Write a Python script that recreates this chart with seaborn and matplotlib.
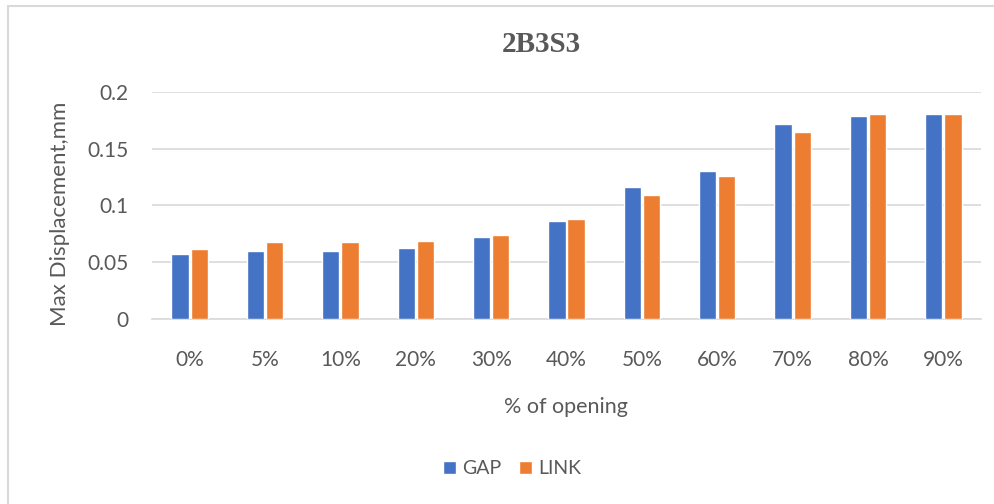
import matplotlib
matplotlib.use("Agg")
import matplotlib.pyplot as plt
import seaborn as sns
import pandas as pd
from matplotlib.patches import Rectangle

# datos
aberturas = ["0%", "5%", "10%", "20%", "30%", "40%", "50%", "60%", "70%", "80%", "90%"]
gap = [0.057, 0.060, 0.060, 0.063, 0.072, 0.086, 0.116, 0.130, 0.172, 0.179, 0.180]
link = [0.062, 0.068, 0.068, 0.069, 0.074, 0.088, 0.109, 0.126, 0.165, 0.180, 0.180]

df = pd.DataFrame({
    "abertura": aberturas * 2,
    "valor": gap + link,
    "serie": ["GAP"] * len(gap) + ["LINK"] * len(link),
})

sns.set_style("white")
plt.rcParams["font.family"] = ["Lato", "DejaVu Sans"]

gris = "#595959"
fig = plt.figure(figsize=(9.95, 5.04), dpi=100)
ax = fig.add_axes([152 / 995, 1 - 319.3 / 504, (981 - 152) / 995, (319.3 - 91.7) / 504])

sns.barplot(data=df, x="abertura", y="valor", hue="serie", order=aberturas,
            palette={"GAP": "#4472C4", "LINK": "#ED7D31"}, width=0.51, gap=0.1,
            saturation=1, errorbar=None, ax=ax, legend=True, zorder=3)

ax.set_ylim(0, 0.2)
ax.set_yticks([0, 0.05, 0.1, 0.15, 0.2])
ax.set_yticklabels(["0", "0.05", "0.1", "0.15", "0.2"])
ax.set_xlim(-0.5, len(aberturas) - 0.5)
ax.grid(axis="y", color="#D9D9D9", linewidth=1.2, zorder=0)
for s in ["top", "right", "left"]:
    ax.spines[s].set_visible(False)
ax.spines["bottom"].set_color("#D9D9D9")
ax.spines["bottom"].set_linewidth(1.2)
ax.tick_params(axis="both", length=0, labelsize=15, colors=gris)
ax.tick_params(axis="x", pad=22)
ax.tick_params(axis="y", pad=17)

# etiquetas de ejes colocadas en coordenadas de la figura
ax.set_xlabel("")
ax.set_ylabel("")
fig.text(566 / 995, 1 - 407 / 504, "% of opening", fontsize=15.5, color=gris, ha="center", va="center")
fig.text(60 / 995, 1 - 214 / 504, "Max Displacement,mm", fontsize=16, color=gris,
         ha="center", va="center", rotation=90)

fig.text(541 / 995, 1 - 44 / 504, "2B3S3", fontsize=21, fontweight="bold", color=gris,
         family="Liberation Serif", ha="center", va="center")

ax.legend(loc="center", bbox_to_anchor=(512 / 995, 1 - 469 / 504), bbox_transform=fig.transFigure,
          ncol=2, frameon=False, fontsize=14, labelcolor=gris, handlelength=0.67, handleheight=0.67,
          handletextpad=0.3, columnspacing=0.95)

# marco del grafico
fig.patches.append(Rectangle((8 / 995, -0.1), 1.2, 1 - 6 / 504 + 0.1, transform=fig.transFigure,
                             fill=False, edgecolor="#D9D9D9", linewidth=1.5))

fig.savefig("out.png", dpi=100)
